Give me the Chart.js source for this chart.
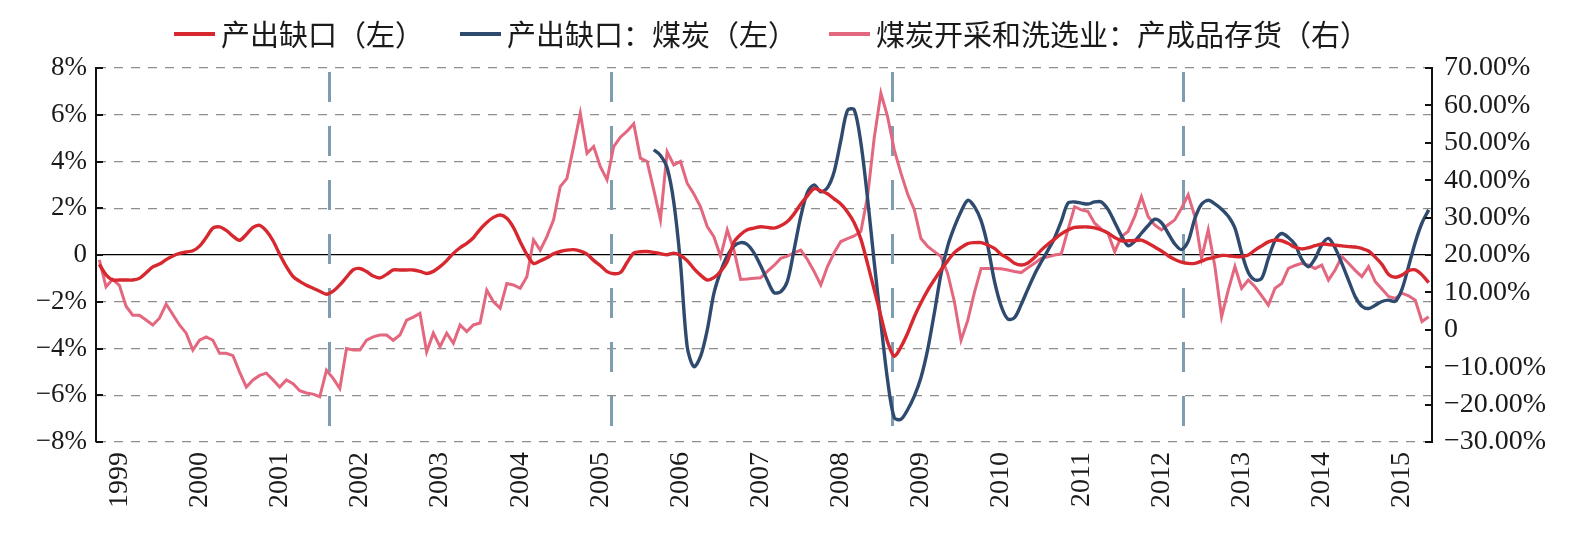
<!DOCTYPE html>
<html>
<head>
<meta charset="utf-8">
<script src="https://cdn.jsdelivr.net/npm/chart.js@4/dist/chart.umd.min.js"></script>
<style>
  html, body { margin: 0; padding: 0; background: #ffffff; }
  #wrap { width: 1586px; height: 538px; }
</style>
</head>
<body>
<div id="wrap"><canvas id="c" width="1586" height="538"></canvas></div>
<script>
// ---- data ----
const seriesNames = ['产出缺口（左）', '产出缺口：煤炭（左）', '煤炭开采和洗选业：产成品存货（右）'];
const firstMonth = { year: 1998, month: 10 };
const monthCount = 200;
const yearLabels = ['1999','2000','2001','2002','2003','2004','2005','2006','2007','2008','2009','2010','2011','2012','2013','2014','2015'];
const leftTicks = { min: -8, max: 8, step: 2 };
const rightTicks = { min: -30, max: 70, step: 10 };
// month positions (in month index units) of the vertical dashed marker lines
const eventMarks = [34.4, 76.6, 118.7, 162.2];

// 产出缺口（左）, %
const outputGap = [
  -0.40,-0.85,-1.07,-1.07,-1.07,-1.07,-1.00,-0.76,-0.51,-0.39,
  -0.20,-0.04,0.07,0.13,0.18,0.38,0.75,1.15,1.20,1.05,
  0.81,0.63,0.88,1.18,1.27,1.03,0.61,0.03,-0.50,-0.92,
  -1.13,-1.29,-1.42,-1.55,-1.68,-1.55,-1.28,-0.95,-0.63,-0.58,
  -0.71,-0.90,-0.98,-0.83,-0.64,-0.64,-0.64,-0.64,-0.70,-0.79,
  -0.70,-0.50,-0.24,0.07,0.31,0.50,0.74,1.10,1.39,1.61,
  1.71,1.57,1.17,0.57,0.02,-0.36,-0.25,-0.12,0.05,0.15,
  0.21,0.23,0.17,0.04,-0.23,-0.45,-0.71,-0.80,-0.75,-0.32,
  0.08,0.14,0.15,0.11,0.06,0.01,0.08,-0.02,-0.24,-0.58,
  -0.86,-1.07,-0.97,-0.70,-0.28,0.55,0.88,1.08,1.15,1.21,
  1.18,1.15,1.25,1.43,1.76,2.18,2.53,2.84,2.75,2.62,
  2.40,2.18,1.84,1.38,0.68,-0.37,-1.48,-2.62,-3.72,-4.33,
  -3.93,-3.35,-2.64,-2.04,-1.51,-1.06,-0.63,-0.25,0.10,0.32,
  0.49,0.53,0.53,0.43,0.28,0.03,-0.14,-0.35,-0.43,-0.34,
  -0.11,0.21,0.46,0.68,0.90,1.07,1.18,1.20,1.20,1.16,
  1.07,0.94,0.75,0.61,0.61,0.62,0.64,0.50,0.34,0.17,
  -0.03,-0.19,-0.30,-0.36,-0.36,-0.26,-0.16,-0.09,-0.02,-0.03,
  -0.07,-0.07,0.00,0.21,0.39,0.56,0.64,0.61,0.49,0.33,
  0.26,0.31,0.40,0.47,0.45,0.42,0.39,0.36,0.34,0.28,
  0.17,-0.09,-0.40,-0.83,-0.95,-0.86,-0.67,-0.64,-0.85,-1.18
];

// 产出缺口：煤炭（左）, %, starts at month index 83
const coalGapStartIndex = 83;
const coalGap = [
  4.50,4.26,3.73,2.25,-0.36,-3.92,-4.78,
  -4.34,-3.21,-1.64,-0.71,-0.03,0.38,0.53,0.45,0.09,-0.46,
  -1.08,-1.61,-1.57,-1.12,0.22,1.64,2.68,3.00,2.70,2.88,
  3.56,4.89,6.19,6.22,4.80,2.43,-0.31,-2.90,-5.35,-6.96,
  -7.03,-6.62,-6.04,-5.24,-4.05,-2.48,-0.81,0.38,1.20,1.86,
  2.34,2.07,1.47,0.38,-1.12,-2.18,-2.74,-2.68,-2.12,-1.46,
  -0.83,-0.30,0.20,0.73,1.44,2.22,2.27,2.22,2.18,2.27,
  2.27,1.95,1.40,0.83,0.40,0.59,0.93,1.25,1.53,1.38,
  0.93,0.47,0.23,0.58,1.56,2.17,2.34,2.19,1.96,1.66,
  1.15,0.10,-0.75,-1.07,-1.00,-0.15,0.62,0.92,0.75,0.45,
  -0.19,-0.50,-0.15,0.44,0.71,0.30,-0.36,-1.07,-1.78,-2.19,
  -2.29,-2.15,-1.99,-1.93,-1.98,-1.47,-0.48,0.55,1.37,1.93
];

// 煤炭开采和洗选业：产成品存货（右）, %
const coalInventory = [
  18.7,11.5,13.5,11.9,6.3,3.9,3.9,2.6,1.3,3.1,
  6.9,4.1,1.3,-0.9,-5.4,-2.8,-1.9,-2.8,-6.3,-6.3,
  -6.9,-11.3,-15.3,-13.4,-12.2,-11.6,-13.4,-15.3,-13.4,-14.4,
  -16.3,-16.9,-17.2,-17.9,-10.8,-13.0,-15.7,-5.0,-5.4,-5.4,
  -2.8,-1.9,-1.4,-1.4,-2.8,-1.4,2.6,3.4,4.4,-5.9,
  -0.9,-4.5,-0.9,-3.6,1.3,-0.5,1.3,1.8,10.6,7.5,
  5.8,12.4,12.0,11.1,14.2,24.0,21.3,24.9,29.4,38.3,
  40.5,49.0,57.9,47.2,49.0,43.6,40.1,49.0,51.5,53.1,
  55.1,45.9,45.0,37.4,29.4,47.6,44.1,45.0,39.2,36.3,
  32.9,27.6,24.9,19.6,26.7,21.3,13.5,13.6,13.8,13.9,
  15.6,17.2,19.1,19.7,20.6,21.3,18.8,15.6,12.0,16.9,
  20.6,23.6,24.4,25.1,26.3,35.6,51.3,63.3,57.0,48.1,
  41.9,36.3,32.1,24.4,22.3,20.9,19.6,15.0,7.5,-2.8,
  2.5,10.0,16.4,16.4,16.4,16.3,16.0,15.6,15.3,16.6,
  17.8,19.1,19.5,20.0,20.3,26.7,32.9,32.1,31.6,28.5,
  26.9,25.8,20.9,24.9,26.3,30.3,35.6,30.3,28.0,26.7,
  28.1,29.4,32.5,36.1,30.3,19.1,26.7,16.9,3.5,10.6,
  16.9,11.1,13.3,11.5,9.1,6.6,11.1,12.4,16.4,17.2,
  17.8,17.3,16.4,17.3,13.3,16.0,19.6,17.8,15.9,14.2,
  16.9,12.9,10.9,8.9,8.4,9.8,9.1,7.9,2.2,3.5
];

// ---- build categories (months) ----
const months = [];
for (let i = 0; i < monthCount; i++) {
  const t = firstMonth.year * 12 + (firstMonth.month - 1) + i;
  months.push(Math.floor(t / 12) + '-' + String(t % 12 + 1).padStart(2, '0'));
}
const coalGapData = months.map((m, i) => (i >= coalGapStartIndex ? coalGap[i - coalGapStartIndex] : null));

const COLORS = { red: '#d7272f', blue: '#2e4a6f', pink: '#e3677e', grid: '#8e8e8e', marker: '#7f9db0', text: '#1a1a1a' };
const minus = v => (v < 0 ? '\u2212' : '');

// legend drawn on the canvas (layout: item start x, centre y)
const legendLayout = { xs: [174, 460, 829], y: 34, lineLen: 41, gap: 6, font: '29px "Noto Sans CJK SC", "Noto Sans CJK JP", sans-serif' };

const decorPlugin = {
  id: 'decor',
  beforeDatasetsDraw(chart) {
    const { ctx, chartArea: a, scales: { x } } = chart;
    ctx.save();
    ctx.strokeStyle = COLORS.marker;
    ctx.lineWidth = 3;
    ctx.setLineDash([30, 24]);
    eventMarks.forEach(pos => {
      const px = Math.round(x.getPixelForValue(pos)) + 0.5;
      ctx.beginPath();
      ctx.moveTo(px, a.top + 4);
      ctx.lineTo(px, a.top + 358);
      ctx.stroke();
    });
    ctx.restore();
  },
  afterDraw(chart) {
    const { ctx, chartArea: a, scales: { y, y2 } } = chart;
    ctx.save();
    ctx.strokeStyle = '#111';
    ctx.lineWidth = 2;
    y.ticks.forEach(t => {
      const py = Math.round(y.getPixelForValue(t.value));
      ctx.beginPath(); ctx.moveTo(a.left, py); ctx.lineTo(a.left + 7, py); ctx.stroke();
    });
    y2.ticks.forEach(t => {
      const py = Math.round(y2.getPixelForValue(t.value));
      ctx.beginPath(); ctx.moveTo(a.right - 7, py); ctx.lineTo(a.right, py); ctx.stroke();
    });
    // legend
    ctx.font = legendLayout.font;
    ctx.textBaseline = 'middle';
    ctx.textAlign = 'left';
    chart.data.datasets.forEach((ds, i) => {
      const x0 = legendLayout.xs[i];
      ctx.strokeStyle = ds.borderColor;
      ctx.lineWidth = 4;
      ctx.beginPath();
      ctx.moveTo(x0, legendLayout.y);
      ctx.lineTo(x0 + legendLayout.lineLen, legendLayout.y);
      ctx.stroke();
      ctx.fillStyle = COLORS.text;
      ctx.fillText(ds.label, x0 + legendLayout.lineLen + legendLayout.gap, legendLayout.y + 1);
    });
    ctx.restore();
  }
};

new Chart(document.getElementById('c'), {
  type: 'line',
  data: {
    labels: months,
    datasets: [
      { label: seriesNames[0], data: outputGap, yAxisID: 'y', borderColor: COLORS.red, backgroundColor: COLORS.red, borderWidth: 3.4, pointRadius: 0, tension: 0.3 },
      { label: seriesNames[1], data: coalGapData, yAxisID: 'y', borderColor: COLORS.blue, backgroundColor: COLORS.blue, borderWidth: 3.4, pointRadius: 0, tension: 0.3, spanGaps: false },
      { label: seriesNames[2], data: coalInventory, yAxisID: 'y2', borderColor: COLORS.pink, backgroundColor: COLORS.pink, borderWidth: 3, pointRadius: 0, tension: 0 }
    ]
  },
  options: {
    responsive: false,
    animation: false,
    devicePixelRatio: 1,
    layout: { padding: { top: 68, left: 0, right: 0, bottom: 0 } },
    plugins: {
      tooltip: { enabled: false },
      legend: { display: false }
    },
    scales: {
      x: {
        type: 'category',
        offset: true,
        grid: { display: false, drawTicks: false, tickLength: 0 },
        border: { display: false },
        ticks: {
          autoSkip: false,
          minRotation: 90,
          maxRotation: 90,
          padding: 10,
          color: COLORS.text,
          font: { family: '"Liberation Serif", serif', size: 28 },
          callback: (v, i) => {
            const m = months[i];
            const yr = m.slice(0, 4);
            return m.endsWith('-01') && yearLabels.includes(yr) ? yr : '';
          }
        },
        afterFit: s => { s.height = 96; }
      },
      y: {
        position: 'left',
        min: leftTicks.min,
        max: leftTicks.max,
        ticks: {
          stepSize: leftTicks.step,
          padding: 9,
          color: COLORS.text,
          font: { family: '"Liberation Serif", serif', size: 27 },
          callback: v => (v === 0 ? '0' : minus(v) + Math.abs(v) + '%')
        },
        grid: {
          drawTicks: false,
          color: c => (c.tick && c.tick.value === 0 ? '#000000' : COLORS.grid),
          lineWidth: c => (c.tick && c.tick.value === 0 ? 1.3 : 1.2)
        },
        border: {
          display: true, color: '#111', width: 2,
          dash: c => (c.tick && c.tick.value === 0 ? [] : [9, 8])
        },
        afterFit: s => { s.width = 96; }
      },
      y2: {
        position: 'right',
        min: rightTicks.min,
        max: rightTicks.max,
        ticks: {
          stepSize: rightTicks.step,
          padding: 12,
          color: COLORS.text,
          font: { family: '"Liberation Serif", serif', size: 28 },
          callback: v => (v === 0 ? '0' : minus(v) + Math.abs(v).toFixed(2) + '%')
        },
        grid: { drawOnChartArea: false, drawTicks: false },
        border: { display: true, color: '#111', width: 2 },
        afterFit: s => { s.width = 154; }
      }
    }
  },
  plugins: [decorPlugin]
});
</script>
</body>
</html>
